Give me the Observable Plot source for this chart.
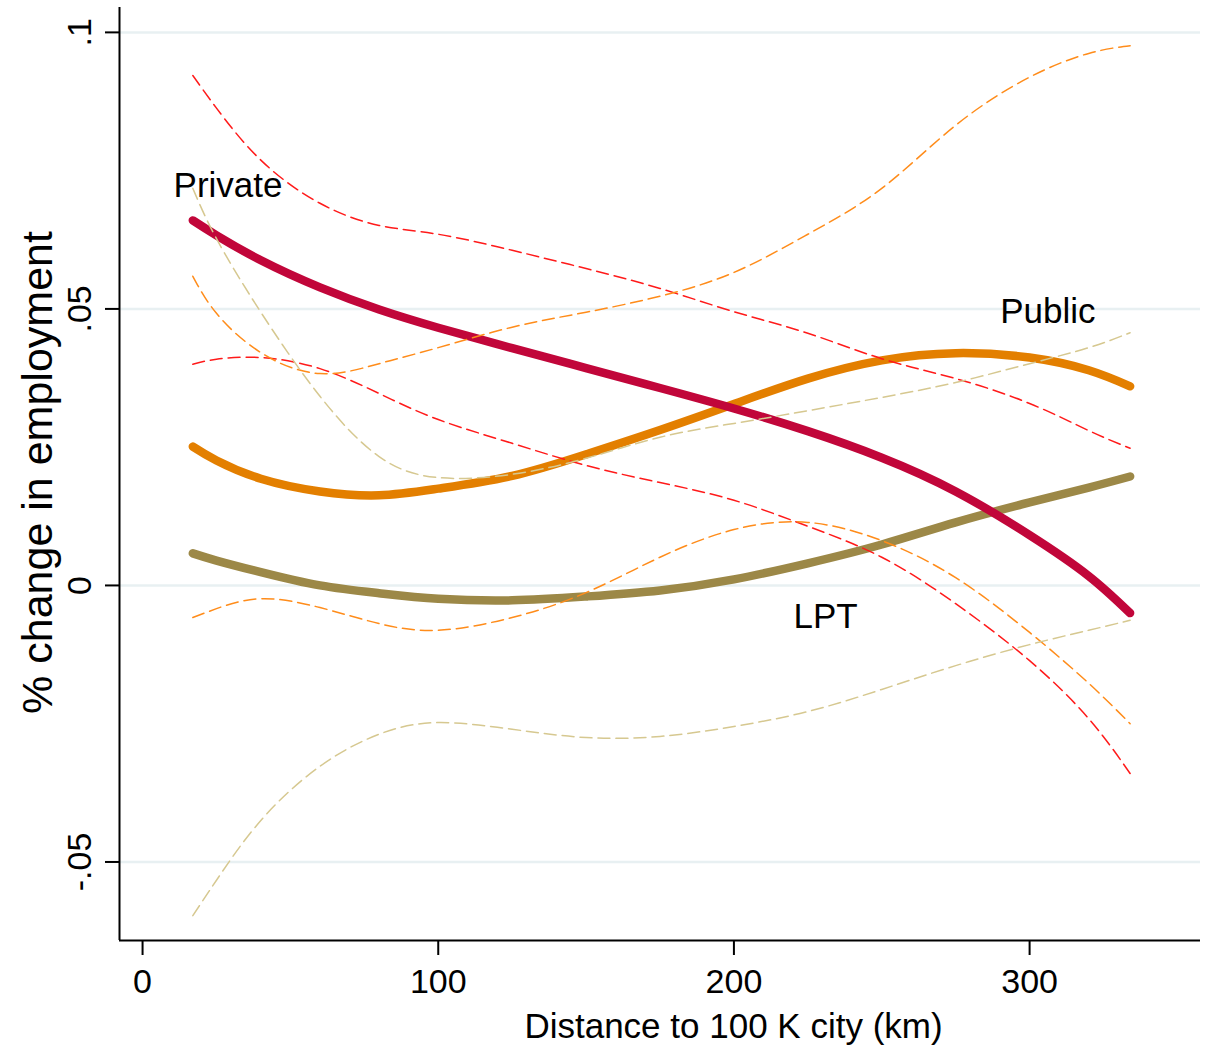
<!DOCTYPE html>
<html><head><meta charset="utf-8">
<script src="https://cdn.jsdelivr.net/npm/d3@7"></script>
<script src="https://cdn.jsdelivr.net/npm/@observablehq/plot@0.6"></script>
<style>body{margin:0;background:#fff} svg{display:block}</style>
</head><body><div id="chart"></div>
<script>
const distance = [17, 25, 40, 60, 80, 100, 125, 150, 175, 200, 225, 250, 275, 300, 320, 334];

const privateMean  = [0.0660, 0.0633, 0.0588, 0.0539, 0.0499, 0.0466, 0.0429, 0.0393, 0.0357, 0.0320, 0.0279, 0.0231, 0.0170, 0.0091, 0.0017, -0.0050];
const privateUpper = [0.0922, 0.0863, 0.0769, 0.0691, 0.0651, 0.0635, 0.0606, 0.0573, 0.0537, 0.0495, 0.0456, 0.0410, 0.0374, 0.0329, 0.0280, 0.0248];
const privateLower = [0.0400, 0.0409, 0.0412, 0.0392, 0.0347, 0.0300, 0.0257, 0.0217, 0.0186, 0.0154, 0.0107, 0.0051, -0.0033, -0.0136, -0.0241, -0.0340];

const publicMean  = [0.0251, 0.0226, 0.0193, 0.0170, 0.0163, 0.0175, 0.0198, 0.0237, 0.0281, 0.0328, 0.0374, 0.0407, 0.0420, 0.0412, 0.0389, 0.0360];
const publicUpper = [0.0559, 0.0492, 0.0421, 0.0383, 0.0401, 0.0430, 0.0467, 0.0494, 0.0523, 0.0566, 0.0635, 0.0718, 0.0832, 0.0919, 0.0962, 0.0976];
const publicLower = [-0.0058, -0.0042, -0.0024, -0.0040, -0.0069, -0.0081, -0.0058, -0.0013, 0.0051, 0.0101, 0.0114, 0.0081, 0.0014, -0.0085, -0.0177, -0.0250];

const lptMean  = [0.0058, 0.0045, 0.0024, 0.0000, -0.0014, -0.0024, -0.0027, -0.0020, -0.0009, 0.0011, 0.0040, 0.0074, 0.0114, 0.0150, 0.0177, 0.0197];
const lptUpper = [0.0718, 0.0627, 0.0494, 0.0342, 0.0233, 0.0195, 0.0201, 0.0230, 0.0268, 0.0293, 0.0316, 0.0340, 0.0367, 0.0401, 0.0430, 0.0457];
const lptLower = [-0.0597, -0.0533, -0.0425, -0.0327, -0.0269, -0.0248, -0.0260, -0.0275, -0.0273, -0.0255, -0.0228, -0.0188, -0.0145, -0.0107, -0.0081, -0.0063];

const xTicks = [0, 100, 200, 300];
const yTicks = [-0.05, 0, 0.05, 0.1];
const yTickLabels = ["-.05", "0", ".05", ".1"];

const seriesLabels = ["Private", "Public", "LPT"];
const seriesLabelX = [28.9, 306.2, 231.0];
const seriesLabelY = [0.0722, 0.0494, -0.00575];

const xTitle = "Distance to 100 K city (km)";
const yTitle = "% change in employment";

const rows = arr => distance.map((d, i) => ({x: d, y: arr[i]}));
const font = "'Liberation Sans', Arial, Helvetica, sans-serif";

const solid = (arr, color) => Plot.line(rows(arr), {x: "x", y: "y", curve: "natural", stroke: color, strokeWidth: 8.5, strokeLinecap: "round", strokeLinejoin: "round"});
const dashed = (arr, color) => Plot.line(rows(arr), {x: "x", y: "y", curve: "natural", stroke: color, strokeWidth: 1.5, strokeDasharray: "12,6"});

const chart = Plot.plot({
  width: 1217,
  height: 1048,
  marginLeft: 119,
  marginRight: 17,
  marginTop: 7,
  marginBottom: 108,
  x: {domain: [-7.8, 357.8]},
  y: {domain: [-0.0642, 0.1045]},
  style: {fontFamily: font, fontSize: "34px", color: "black", background: "white"},
  marks: [
    Plot.ruleY(yTicks, {stroke: "#e8f0f2", strokeWidth: 2.5}),
    solid(lptMean, "#9c8847"),
    solid(publicMean, "#e37f00"),
    solid(privateMean, "#c1063a"),
    dashed(privateUpper, "#ff1a1a"),
    dashed(privateLower, "#ff1a1a"),
    dashed(publicUpper, "#ff8c1a"),
    dashed(publicLower, "#ff8c1a"),
    dashed(lptUpper, "#d6c890"),
    dashed(lptLower, "#d6c890"),
    Plot.ruleX([-7.8], {stroke: "black", strokeWidth: 2}),
    Plot.ruleY([-0.0642], {stroke: "black", strokeWidth: 2}),
    Plot.axisX(xTicks, {tickSize: 15, tickPadding: 13, strokeWidth: 2, fontSize: 34, label: null, tickFormat: d => String(d)}),
    Plot.axisY(yTicks, {tickSize: 14, tickPadding: 15, tickRotate: -90, strokeWidth: 2, fontSize: 34, label: null, tickFormat: d => yTickLabels[yTicks.indexOf(d)]}),
    Plot.text(seriesLabels, {x: (d, i) => seriesLabelX[i], y: (d, i) => seriesLabelY[i], text: d => d, fontSize: 35, fill: "black"}),
    Plot.text([xTitle], {frameAnchor: "bottom", dx: 73.5, dy: 97, lineAnchor: "bottom", textAnchor: "middle", text: d => d, fontSize: 35, fill: "black"}),
    Plot.text([yTitle], {frameAnchor: "left", dx: -68, dy: -1.5, rotate: -90, lineAnchor: "bottom", textAnchor: "middle", text: d => d, fontSize: 43, fill: "black"})
  ]
});
document.getElementById("chart").appendChild(chart);
</script>
</body></html>
